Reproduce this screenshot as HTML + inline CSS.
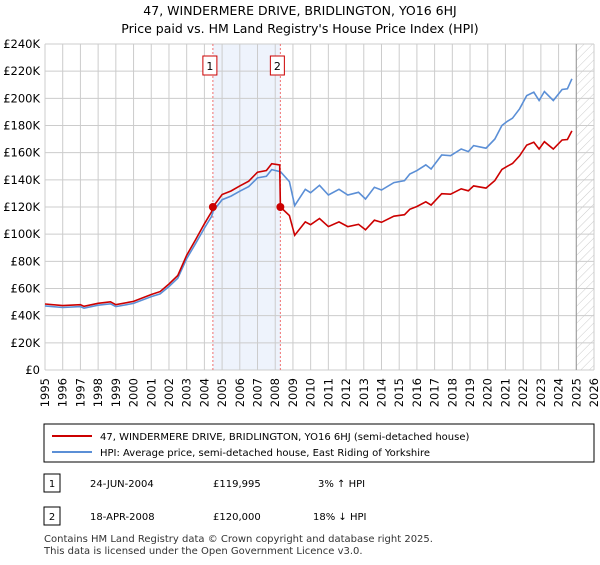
<!DOCTYPE html>
<html><head><meta charset="utf-8"><style>
body{margin:0;background:#fff;font-family:"Liberation Sans","DejaVu Sans",sans-serif;}
svg text{font-family:"DejaVu Sans","Liberation Sans",sans-serif;}
</style></head><body>
<svg id="chart" width="600" height="560" xmlns="http://www.w3.org/2000/svg">
<defs><pattern id="hatch" width="6" height="6" patternUnits="userSpaceOnUse" patternTransform="rotate(45)"><line x1="0" y1="0" x2="0" y2="6" stroke="#ccc" stroke-width="1"/></pattern></defs>
<text x="300" y="15" text-anchor="middle" font-size="12.5">47, WINDERMERE DRIVE, BRIDLINGTON, YO16 6HJ</text>
<text x="300" y="33" text-anchor="middle" font-size="12.5">Price paid vs. HM Land Registry's House Price Index (HPI)</text>
<g id="grid"></g><g id="marks"></g><g id="axes"></g>
<rect x="44" y="424" width="550" height="38" fill="#fff" stroke="#000" stroke-width="1"/>
<line x1="52" y1="436" x2="92" y2="436" stroke="#cc0000" stroke-width="2"/>
<text x="100" y="440" font-size="10">47, WINDERMERE DRIVE, BRIDLINGTON, YO16 6HJ (semi-detached house)</text>
<line x1="52" y1="452" x2="92" y2="452" stroke="#5b8fd6" stroke-width="2"/>
<text x="100" y="456" font-size="10">HPI: Average price, semi-detached house, East Riding of Yorkshire</text>
<rect x="44" y="474" width="16" height="18" fill="#fff" stroke="#000"/><text x="52" y="487" font-size="10" text-anchor="middle">1</text>
<text x="90" y="487" font-size="10">24-JUN-2004</text>
<text x="213" y="487" font-size="10">£119,995</text>
<text x="318" y="487" font-size="10">3% ↑ HPI</text>
<rect x="44" y="507" width="16" height="18" fill="#fff" stroke="#000"/><text x="52" y="520" font-size="10" text-anchor="middle">2</text>
<text x="90" y="520" font-size="10">18-APR-2008</text>
<text x="213" y="520" font-size="10">£120,000</text>
<text x="313" y="520" font-size="10">18% ↓ HPI</text>
<text x="44" y="542" font-size="10" fill="#333">Contains HM Land Registry data © Crown copyright and database right 2025.</text>
<text x="44" y="554" font-size="10" fill="#333">This data is licensed under the Open Government Licence v3.0.</text>
</svg>
<script>
const hpiYears=[1995,1996,1997,1997.2,1998,1998.7,1999,2000,2001,2001.5,2002,2002.5,2003,2003.5,2004,2004.4,2004.5,2005,2005.5,2006,2006.5,2007,2007.5,2007.8,2008.3,2008.8,2009.1,2009.7,2010,2010.5,2011,2011.6,2012.1,2012.7,2013.1,2013.6,2014,2014.7,2015.3,2015.6,2016,2016.5,2016.8,2017.4,2017.9,2018.5,2018.9,2019.2,2019.9,2020.4,2020.8,2021.1,2021.4,2021.8,2022.2,2022.6,2022.9,2023.2,2023.7,2024.2,2024.5,2024.75];
const hpiValues=[47.2,46,46.7,45.5,47.7,48.7,46.7,49,54,56,61.5,67.6,82,93,104.5,113,117,125.4,128,131.6,135,141.4,142.6,147.5,146,138.7,121,133,130.5,136,128.8,133,128.8,130.8,125.9,134.5,132.5,138,139.4,144.3,146.8,151,148,158.3,157.8,162.7,160.8,165.2,163.3,170,180,183,185.4,192.3,202,204.5,198.4,205,198.4,206.5,207,214.4];
const priceYears=[1995,1996,1997,1997.2,1998,1998.7,1999,2000,2001,2001.5,2002,2002.5,2003,2003.5,2004,2004.4,2004.48,2005,2005.5,2006,2006.5,2007,2007.5,2007.8,2008.25,2008.29,2008.8,2009.1,2009.7,2010,2010.5,2011,2011.6,2012.1,2012.7,2013.1,2013.6,2014,2014.7,2015.3,2015.6,2016,2016.5,2016.8,2017.4,2017.9,2018.5,2018.9,2019.2,2019.9,2020.4,2020.8,2021.1,2021.4,2021.8,2022.2,2022.6,2022.9,2023.2,2023.7,2024.2,2024.5,2024.75];
const priceValues=[48.6,47.4,48.1,46.9,49.1,50.2,48.1,50.5,55.6,57.7,63.3,69.6,84.5,95.8,107.6,116.4,120,129.2,131.8,135.5,139,145.6,146.9,151.9,151,120,113.7,99.2,109,107,111.5,105.6,109,105.6,107.3,103.2,110.3,108.7,113.2,114.3,118.3,120.4,123.8,121.4,129.8,129.4,133.4,131.9,135.5,133.9,139.4,147.6,150,152,157.7,165.6,167.7,162.7,168.1,162.7,169.3,169.7,176];
const saleYears=[2004.48,2008.29];
const saleValues=[119.995,120];
const saleLabels=["1","2"];
const yTicks=[0,20,40,60,80,100,120,140,160,180,200,220,240];
const xTicks=[1995,1996,1997,1998,1999,2000,2001,2002,2003,2004,2005,2006,2007,2008,2009,2010,2011,2012,2013,2014,2015,2016,2017,2018,2019,2020,2021,2022,2023,2024,2025,2026];
const L=45,R=594,T=44,B=370,X0=1995,X1=2026,YMAX=240,dataEnd=2025.0;
const NS="http://www.w3.org/2000/svg";
const x=v=>L+(v-X0)/(X1-X0)*(R-L);
const y=v=>B-v/YMAX*(B-T);
function mk(parent,tag,attrs){const e=document.createElementNS(NS,tag);for(const k in attrs)e.setAttribute(k,attrs[k]);document.getElementById(parent).appendChild(e);return e;}
// shaded region & hatch
let sh=mk('grid','rect',{x:x(saleYears[0]),y:T,width:x(saleYears[1])-x(saleYears[0]),height:B-T,fill:'#eef3fc'});


let ht=mk('grid','rect',{x:x(dataEnd),y:T,width:R-x(dataEnd),height:B-T,fill:'url(#hatch)'});


yTicks.forEach(t=>{
 let g=mk('grid','line',{x1:L,x2:R,y1:y(t),y2:y(t),stroke:'#ccc','stroke-width':1});
 
 
 let tx=mk('axes','text',{x:L-5,y:y(t)+4,'text-anchor':'end','font-size':11.5});
 
 
 tx.textContent=t===0?'£0':'£'+t+'K';
});
xTicks.forEach(t=>{
 let g=mk('grid','line',{x1:x(t),x2:x(t),y1:T,y2:B,stroke:'#ccc','stroke-width':1});
 
 
 let tx=mk('axes','text',{x:0,y:0,'text-anchor':'end','font-size':11.5,transform:`translate(${x(t)+4},${B+8}) rotate(-90)`});
 
 
 tx.textContent=t;
});
let el=mk('grid','line',{x1:x(dataEnd),x2:x(dataEnd),y1:T,y2:B,stroke:'#999','stroke-width':1});


saleYears.forEach((s,i)=>{
 let v=mk('marks','line',{x1:x(s),x2:x(s),y1:T,y2:B,stroke:'#f07070','stroke-width':1,'stroke-dasharray':'2,2'});
 
 
});
function path(xs,vs,col,name){
 let d=xs.map((a,i)=>(i?'L':'M')+x(a).toFixed(1)+','+y(vs[i]).toFixed(1)).join('');
 let p=mk('marks','path',{d:d,fill:'none',stroke:col,'stroke-width':1.6});
 
 
}
path(hpiYears,hpiValues,'#5b8fd6','hpi-line');
path(priceYears,priceValues,'#cc0000','price-paid-line');
saleYears.forEach((s,i)=>{
 let c=mk('marks','circle',{cx:x(s),cy:y(saleValues[i]),r:4,fill:'#cc0000'});
 
 
 let b=mk('marks','rect',{x:x(s)-10,y:56,width:14,height:19,fill:'#fff',stroke:'#cc0000'});
 
 
 let t=mk('marks','text',{x:x(s)-3,y:70,'text-anchor':'middle','font-size':11});
 
 
 t.textContent=saleLabels[i];
});
</script>
</body></html>
